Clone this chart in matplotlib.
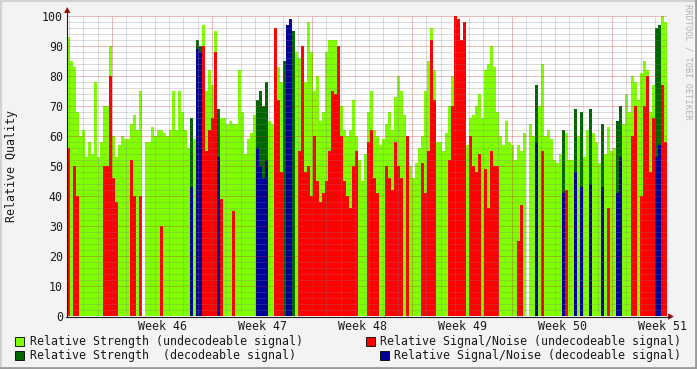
import numpy as np
import matplotlib
matplotlib.use("Agg")
import matplotlib.pyplot as plt
from matplotlib.patches import Rectangle, Polygon
from matplotlib.lines import Line2D

nan = np.nan

# time axis in weeks (label "Week N" sits in the middle of week N)
start_week = 45.05
step_week = 0.03

strength = [
    93, 85, 83, 68, 60, 62, 53, 58, 54, 78,
    53, 58, 70, 70, 90, 60, 53, 57, 60, 59,
    59, 64, 67, 62, 75, nan, 58, 58, 63, 60,
    62, 62, 61, 60, 62, 75, 62, 75, 68, 62,
    56, 66, 59, 92, 90, 97, 75, 82, 77, 95,
    69, 66, 66, 64, 65, 64, 64, 82, 68, 54,
    59, 61, 67, 72, 75, 70, 78, 65, 64, 90,
    83, 78, 85, 50, 95, 95, 88, 86, 85, 78,
    98, 88, 75, 80, 65, 68, 88, 92, 92, 92,
    80, 70, 62, 60, 62, 72, 60, 52, 45, 54,
    68, 75, 62, 60, 57, 59, 64, 68, 62, 73,
    80, 75, 67, 58, 50, 46, 51, 56, 60, 75,
    85, 96, 82, 58, 58, 55, 61, 70, 80, 95,
    95, 90, 95, 57, 66, 67, 70, 74, 66, 82,
    84, 90, 83, 68, 60, 57, 65, 58, 57, 52,
    57, 55, 61, nan, 64, 60, 77, 70, 84, 60,
    62, 59, 52, 51, 54, 62, 61, 52, 52, 69,
    60, 68, 53, 62, 69, 61, 58, 51, 64, 54,
    63, 55, 56, 65, 70, 64, 74, 68, 80, 78,
    72, 81, 85, 82, 68, 77, 96, 97, 100, 98,
]

snr = [
    56, 0, 50, 40, 0, 0, 0, 0, 0, 0,
    0, 0, 50, 50, 80, 46, 38, 0, 0, 0,
    0, 52, 40, 0, 40, nan, 0, 0, 0, 0,
    0, 30, 0, 0, 0, 0, 0, 0, 0, 0,
    0, 43, 0, 89, 88, 90, 55, 62, 66, 88,
    53, 39, 0, 0, 0, 35, 0, 0, 0, 0,
    0, 0, 0, 56, 50, 46, 52, 0, 0, 96,
    72, 48, 0, 97, 99, 0, 0, 55, 90, 48,
    50, 40, 60, 45, 38, 41, 45, 55, 75, 74,
    90, 60, 45, 40, 36, 50, 55, 0, 0, 0,
    58, 62, 46, 41, 0, 0, 50, 46, 42, 58,
    50, 46, 0, 60, 0, 0, 0, 0, 51, 41,
    55, 92, 72, 0, 0, 0, 0, 52, 70, 100,
    99, 92, 98, 0, 60, 50, 48, 54, 0, 49,
    36, 55, 50, 50, 0, 0, 0, 0, 0, 0,
    25, 37, 0, nan, 0, 0, 58, 0, 55, 0,
    0, 0, 0, 0, 0, 41, 42, 0, 0, 48,
    0, 43, 0, 0, 44, 0, 0, 0, 43, 0,
    36, 0, 0, 41, 53, 0, 0, 0, 60, 70,
    0, 40, 70, 80, 48, 66, 53, 57, 77, 58,
]

# 1 = signal could be decoded
decoded = [
    0, 0, 0, 0, 0, 0, 0, 0, 0, 0,
    0, 0, 0, 0, 0, 0, 0, 0, 0, 0,
    0, 0, 0, 0, 0, 0, 0, 0, 0, 0,
    0, 0, 0, 0, 0, 0, 0, 0, 0, 0,
    0, 1, 0, 1, 1, 0, 0, 0, 0, 0,
    1, 0, 0, 0, 0, 0, 0, 0, 0, 0,
    0, 0, 0, 1, 1, 1, 1, 0, 0, 0,
    0, 0, 1, 1, 1, 1, 0, 0, 0, 0,
    0, 0, 0, 0, 0, 0, 0, 0, 0, 0,
    0, 0, 0, 0, 0, 0, 0, 0, 0, 0,
    0, 0, 0, 0, 0, 0, 0, 0, 0, 0,
    0, 0, 0, 0, 0, 0, 0, 0, 0, 0,
    0, 0, 0, 0, 0, 0, 0, 0, 0, 0,
    0, 0, 0, 0, 0, 0, 0, 0, 0, 0,
    0, 0, 0, 0, 0, 0, 0, 0, 0, 0,
    0, 0, 0, 0, 0, 0, 1, 0, 0, 0,
    0, 0, 0, 0, 0, 1, 0, 0, 0, 1,
    0, 1, 0, 0, 1, 0, 0, 0, 1, 0,
    0, 0, 0, 1, 1, 0, 0, 0, 0, 0,
    0, 0, 0, 0, 0, 0, 1, 1, 0, 0,
]

week_labels = [46, 47, 48, 49, 50, 51]
y_ticks = [0, 10, 20, 30, 40, 50, 60, 70, 80, 90, 100]

legend_items = [
    ("Relative Strength (undecodeable signal)", "#80FF00"),
    ("Relative Signal/Noise (undecodeable signal)", "#FF0000"),
    ("Relative Strength  (decodeable signal)", "#006600"),
    ("Relative Signal/Noise (decodeable signal)", "#000099"),
]

W, H = 697, 369
FONT = "DejaVu Sans Mono"
FS = 8.4


def fx(x):
    return x / W


def fy(y):
    return 1 - y / H


def main():
    fig = plt.figure(figsize=(W / 100, H / 100), dpi=100, facecolor="#F3F3F3")
    ax = fig.add_axes([fx(67), fy(316), 600 / W, 300 / H])
    ax.set_facecolor("white")

    s = np.nan_to_num(np.array(strength, float))
    n = np.nan_to_num(np.array(snr, float))
    d = np.array(decoded, bool)
    t = start_week + step_week * np.arange(len(s))

    kw = dict(width=step_week, align="edge", linewidth=0, antialiased=False)
    ax.bar(t[~d], s[~d], color="#80FF00", zorder=1, **kw)
    ax.bar(t[d], s[d], color="#006600", zorder=1, **kw)
    ax.bar(t[~d], n[~d], color="#FF0000", zorder=1.2, **kw)
    ax.bar(t[d], n[d], color="#000099", zorder=1.2, **kw)

    x0, x1 = start_week, start_week + step_week * len(s)
    ax.set_xlim(x0, x1)
    ax.set_ylim(0, 100)

    # grid drawn over the data, rrdtool style
    minor_c = (0.5, 0.5, 0.5, 0.28)
    major_c = (0.75, 0.2, 0.2, 0.33)
    dot = dict(linewidth=0.72, linestyle=(0, (1, 1)), zorder=3, antialiased=False)
    for v in range(2, 100, 2):
        if v % 10:
            ax.axhline(v, color=minor_c, **dot)
    for v in y_ticks[1:]:
        ax.axhline(v, color=major_c, **dot)
    first_week = int(np.floor(x0)) - 1
    for w in range(first_week, int(x1) + 2):
        for day in range(7):
            xv = w + 0.5 + day / 7
            if x0 < xv < x1:
                ax.axvline(xv, color=major_c if day == 0 else minor_c, **dot)

    for sp in ax.spines.values():
        sp.set_visible(False)

    ax.set_xticks(week_labels)
    ax.set_xticklabels(["Week %d" % w for w in week_labels], fontfamily=FONT,
                       fontsize=FS, color="#1A1A1A")
    ax.set_yticks(y_ticks)
    ax.set_yticklabels([str(v) for v in y_ticks], fontfamily=FONT,
                       fontsize=FS, color="#1A1A1A")
    ax.tick_params(axis="x", length=0, pad=3)
    ax.tick_params(axis="y", length=0, pad=3)

    # axes with arrows
    ac = "#202020"
    fig.add_artist(Line2D([fx(67), fx(67)], [fy(316.5), fy(10)], color=ac, lw=0.8))
    fig.add_artist(Line2D([fx(66), fx(670)], [fy(316.5), fy(316.5)], color=ac, lw=0.8))
    arrow_c = "#A01010"
    fig.add_artist(Polygon([(fx(64), fy(13)), (fx(70.5), fy(13)), (fx(67.2), fy(7))],
                           closed=True, facecolor=arrow_c, edgecolor="none"))
    fig.add_artist(Polygon([(fx(668), fy(313.3)), (fx(668), fy(319.7)), (fx(674), fy(316.5))],
                           closed=True, facecolor=arrow_c, edgecolor="none"))

    fig.text(fx(12), fy(166), "Relative Quality", rotation=90, ha="center",
             va="center", fontfamily=FONT, fontsize=FS, color="#1A1A1A")
    fig.text(fx(688), fy(4), "RRDTOOL / TOBI OETIKER", rotation=270, ha="center",
             va="top", fontfamily=FONT, fontsize=6.2, color="#B4B4B4")

    # legend
    spots = [(15, 30, 341), (366, 380, 341), (15, 30, 355), (380, 394, 355)]
    for (label, color), (bx, tx, ty) in zip(legend_items, spots):
        fig.add_artist(Rectangle((fx(bx), fy(ty + 4.5)), 9 / W, 9 / H,
                                 facecolor=color, edgecolor="black", lw=0.6))
        fig.text(fx(tx), fy(ty), label, ha="left", va="center",
                 fontfamily=FONT, fontsize=FS, color="#1A1A1A")

    # frame
    fig.add_artist(Line2D([0, 1], [fy(0.5), fy(0.5)], color="#D2D2D2", lw=1.5))
    fig.add_artist(Line2D([fx(0.5), fx(0.5)], [0, 1], color="#D2D2D2", lw=1.5))
    fig.add_artist(Line2D([0, 1], [fy(368), fy(368)], color="#9A9A9A", lw=2))
    fig.add_artist(Line2D([fx(696), fx(696)], [0, 1], color="#9A9A9A", lw=2))

    fig.savefig("out.png", dpi=100, facecolor=fig.get_facecolor())


if __name__ == "__main__":
    main()
